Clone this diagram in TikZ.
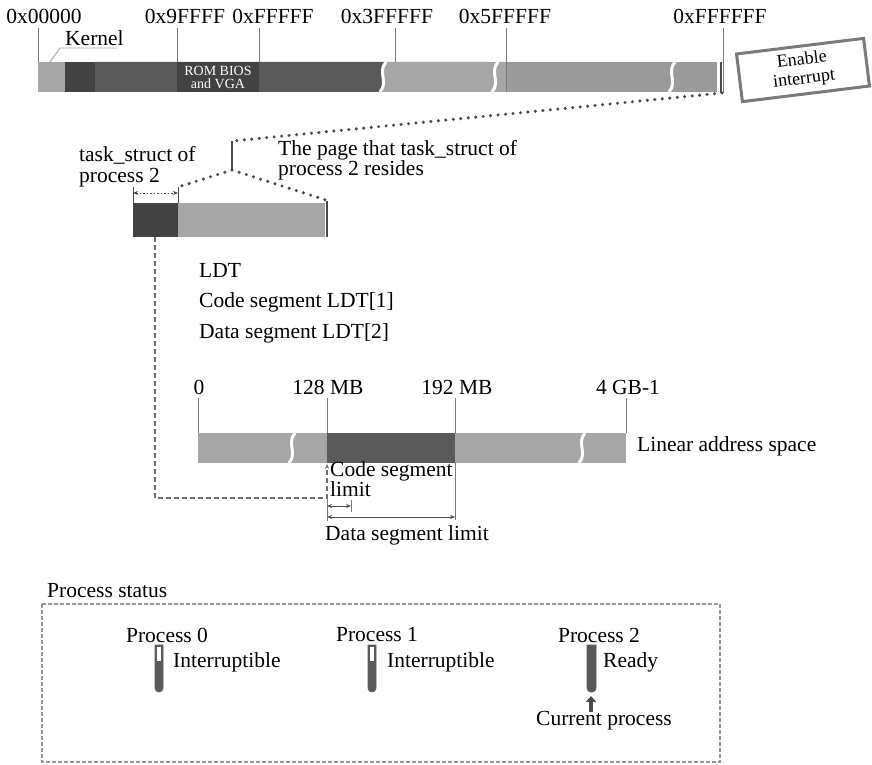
\documentclass[tikz,border=0pt]{standalone}
\usepackage{fontspec}
\setmainfont{Liberation Serif}
\usetikzlibrary{arrows.meta}

\definecolor{barDark}{HTML}{424242}
\definecolor{barMid}{HTML}{5A5A5A}
\definecolor{barLight}{HTML}{A6A6A6}
\definecolor{barGray}{HTML}{9B9B9B}
\definecolor{tickGray}{HTML}{7A7A7A}
\definecolor{lineDark}{HTML}{4A4A4A}

\begin{document}
\begin{tikzpicture}[x=1pt,y=-1pt,
  lbl/.style={font=\fontsize{21.5}{21}\selectfont, inner sep=0pt},
  tick/.style={draw=tickGray, line width=0.9pt},
  brk/.style={draw=white, line width=3pt},
  dots/.style={draw=lineDark, line width=3.4pt, dash pattern=on 0pt off 7.5pt, line cap=round},
  guide/.style={draw=tickGray!90!black, line width=1.4pt, dash pattern=on 5pt off 3pt},
  dimarrow/.style={draw=lineDark, line width=0.9pt, {Stealth[length=5pt,width=4pt]}-{Stealth[length=5pt,width=4pt]}},
  thermo/.style={fill=barMid, draw=barMid, line width=0.8pt},
]
\useasboundingbox (0,0) rectangle (872,765);

% ---------- physical memory bar ----------
\fill[barGray] (38,62) rectangle (717,92);
\fill[barLight] (386,62) .. controls (377,72.5) and (389,81.5) .. (380,92) -- (506,92) -- (506,62) -- cycle;
\fill[barMid] (95,62) -- (386,62) .. controls (377,72.5) and (389,81.5) .. (380,92) -- (95,92) -- cycle;
\fill[barLight] (38,62) rectangle (65,92);
\fill[barDark] (65,62) rectangle (95,92);
\fill[barDark] (177,62) rectangle (259,92);
\node[font=\fontsize{14}{13}\selectfont, text=white, align=center, inner sep=0pt] (rom) at (218,77) {ROM BIOS\\and VGA};
% breaks
\draw[brk] (386,62) .. controls (377,72.5) and (389,81.5) .. (380,92);
\draw[brk] (498,62) .. controls (489,72.5) and (501,81.5) .. (492,92);
\draw[brk] (675,62) .. controls (666,72.5) and (678,81.5) .. (669,92);
\draw[lineDark, line width=1.6pt] (721,62) -- (721,93);

% address ticks and labels
\node[lbl] (a0) at (44,16) {0x00000};
\node[lbl] (a1) at (185,16) {0x9FFFF};
\node[lbl] (a2) at (273,16) {0xFFFFF};
\node[lbl] (a3) at (387,16) {0x3FFFFF};
\node[lbl] (a4) at (505,16) {0x5FFFFF};
\node[lbl] (a5) at (720,16) {0xFFFFFF};
\draw[tick] (38,28) -- (38,62);
\draw[tick] (177,28) -- (177,62);
\draw[tick] (259,28) -- (259,62);
\draw[tick] (395,28) -- (395,62);
\draw[tick] (506,28) -- (506,92);
\draw[tick] (723,28) -- (723,93);

% kernel label
\node[lbl, anchor=west] (kern) at (65,38) {Kernel};
\draw[draw=barLight, line width=0.9pt] (50,62) -- (60,48) -- (117,48);

% enable interrupt tag
\node[draw=tickGray, line width=3pt, rotate=7, minimum width=128, minimum height=48,
      font=\fontsize{18}{19}\selectfont, align=center, inner sep=2pt] (en) at (803,70) {Enable\\interrupt};

% ---------- page holding task_struct ----------
\coordinate (memEnd) at (722,93);
\coordinate (pgTop) at (232,141);
\coordinate (pgBot) at (232,170);
\coordinate (tsR) at (178,187);
\coordinate (pgR) at (329,201);
\draw[dots] (memEnd) -- (pgTop);
\draw[lineDark, line width=1.4pt] (pgTop) -- (pgBot);
\draw[dots] (pgBot) -- (tsR);
\draw[dots] (pgBot) -- (pgR);

\fill[barLight] (178,203) rectangle (325,237);
\fill[barDark] (133,203) rectangle (178,237);
\draw[lineDark, line width=2pt] (327,201) -- (327,237);
\draw[lineDark, line width=0.8pt] (133,187) -- (133,203);
\draw[lineDark, line width=0.8pt] (178,187) -- (178,203);
\draw[dimarrow, dash pattern=on 1.5pt off 2pt] (133,193) -- (178,193);

\node[lbl, anchor=west, align=left, font=\fontsize{21.5}{21}\selectfont] (tsl) at (79,167) {task\_struct of\\process 2};
\node[lbl, anchor=west, align=left, font=\fontsize{21.5}{20}\selectfont] (pgl) at (278,160) {The page that task\_struct of\\process 2 resides};

% LDT entries
\node[lbl, anchor=west] (ldt) at (199,270) {LDT};
\node[lbl, anchor=west] (ldt1) at (199,302) {Code segment LDT[1]};
\node[lbl, anchor=west] (ldt2) at (199,333) {Data segment LDT[2]};

% ---------- linear address space ----------
\fill[barLight] (198,433) rectangle (626,463);
\fill[barMid] (327,433) rectangle (455,463);
\draw[brk] (295,433) .. controls (286,443.5) and (298,452.5) .. (289,463);
\draw[brk] (585,433) .. controls (576,443.5) and (588,452.5) .. (579,463);

\node[lbl] (m0) at (199,387) {0};
\node[lbl] (m1) at (328,387) {128 MB};
\node[lbl] (m2) at (457,387) {192 MB};
\node[lbl] (m3) at (628,387) {4 GB-1};
\draw[tick] (198,398) -- (198,433);
\draw[tick] (327,398) -- (327,433);
\draw[tick] (455,398) -- (455,433);
\draw[tick] (626,398) -- (626,433);
\node[lbl, anchor=west] (las) at (637,446) {Linear address space};

% segment limits
\draw[tick] (455,463) -- (455,520);
\draw[tick] (327,498) -- (327,521);
\draw[tick] (351,500) -- (351,512);
\draw[guide, -{Stealth[length=5pt,width=4pt]}] (155,237) -- (155,498) -- (327,498) -- (327,464);
\draw[dimarrow] (327,506) -- (351,506);
\draw[dimarrow] (327,517) -- (455,517);
\node[lbl, anchor=west, align=left, font=\fontsize{21.5}{18}\selectfont] (csl) at (330,479) {Code segment\\limit};
\node[lbl, anchor=west] (dsl) at (325,535) {Data segment limit};

% ---------- process status ----------
\node[lbl, anchor=west] (pst) at (47,591) {Process status};
\draw[draw=tickGray!80, line width=1.3pt, dash pattern=on 4pt off 2pt] (42,604) rectangle (720,762);

\node[lbl] (p0) at (167,635) {Process 0};
\node[lbl] (p1) at (377,635) {Process 1};
\node[lbl] (p2) at (599,635) {Process 2};

\path[thermo] (155,645) -- (163,645) [rounded corners=4pt] -- (163,692) -- (155,692) [sharp corners] -- cycle;
\fill[white] (156.6,646.6) rectangle (161.4,661);
\path[thermo] (368,645) -- (376,645) [rounded corners=4pt] -- (376,692) -- (368,692) [sharp corners] -- cycle;
\fill[white] (369.6,646.6) rectangle (374.4,661);
\path[thermo] (587,645) -- (596,645) [rounded corners=4pt] -- (596,692) -- (587,692) [sharp corners] -- cycle;

\node[lbl, anchor=west] (s0) at (173,662) {Interruptible};
\node[lbl, anchor=west] (s1) at (387,662) {Interruptible};
\node[lbl, anchor=west] (s2) at (603,662) {Ready};

\node[lbl] (cur) at (604,721) {Current process};
\draw[draw=lineDark, line width=4pt, -{Triangle[length=6pt,width=10pt]}] (591,712) -- (591,696);

\end{tikzpicture}
\end{document}
